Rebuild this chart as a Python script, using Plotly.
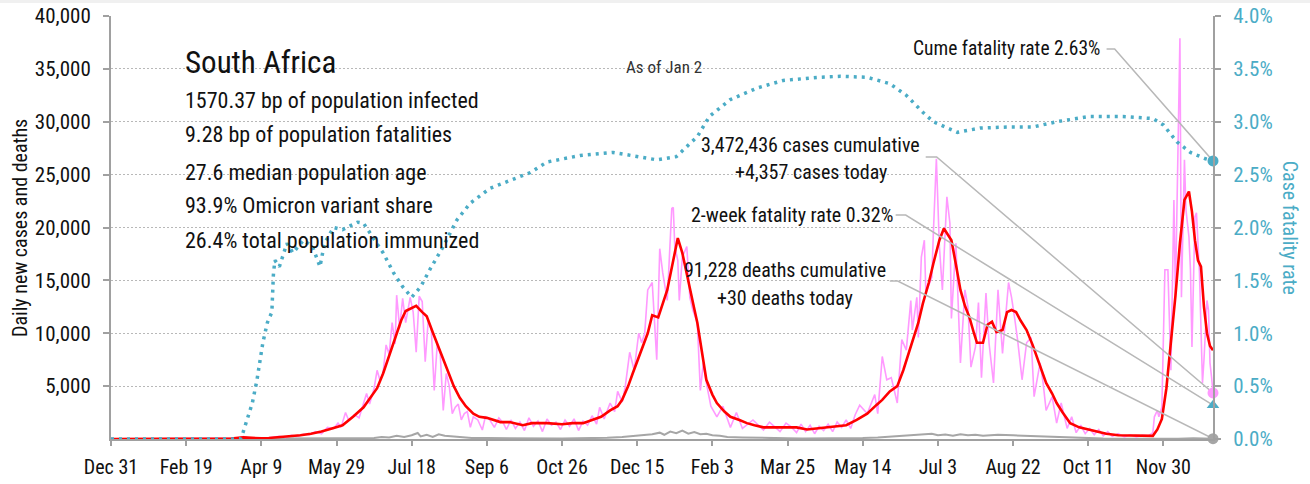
import pandas as pd
import plotly.graph_objects as go

START = pd.Timestamp("2019-12-31")
END = pd.Timestamp("2022-01-02")

# ---- daily new cases (days since START, cases) ----
case_day = [0, 64, 70, 78, 84, 88, 92, 96, 100, 104, 108, 112, 116, 120, 124, 128, 132, 136, 140, 144,
            148, 151, 153, 156, 158, 162, 165, 168, 170, 172, 175, 177, 179, 181, 183, 185, 187, 189, 190, 192,
            194, 196, 199, 201, 203, 205, 207, 209, 211, 213, 215, 217, 219, 221, 223, 225, 227, 229, 231, 233,
            235, 237, 239, 241, 244, 247, 249, 252, 255, 258,
            261, 263, 266, 269, 272, 275, 278, 281, 284, 287, 290, 293, 296, 299, 302, 305, 308, 311, 314, 317,
            320, 323, 325, 328, 332, 335, 337, 340, 342, 345, 348, 351, 353, 355, 357, 360, 362, 363, 365, 367,
            370, 373, 374, 375, 377, 378, 380, 383, 385, 387, 390, 392, 394, 396, 399, 403, 407, 412, 416, 420,
            427, 434, 438, 445, 449,
            452, 456, 459, 462, 465, 468, 471, 474, 477, 480, 483, 486, 489, 492, 495, 498, 503, 508, 510, 513,
            516, 519, 523, 526, 529, 532, 533, 536, 537, 539, 541, 542, 546, 547, 549, 551, 553, 556, 558, 559,
            562, 565, 568, 570, 572, 575, 577, 579, 582, 584, 587, 590, 593, 597, 599, 601, 603, 606, 609, 612,
            614, 618, 620, 622, 626, 629, 632, 636, 639, 642, 645, 648, 651, 654, 657, 660, 663, 666, 670, 674,
            678, 682, 686, 690, 693, 694, 696, 697, 699, 701, 703, 705, 707, 708, 711, 712, 714, 715, 717, 718,
            719, 721, 722, 724, 726, 727, 729, 730, 731, 732, 733]
case_val = [0, 0, 5, 20, 60, 240, 100, 60, 40, 100, 160, 250, 150, 350, 250, 450, 400, 700, 500, 1100,
            1000, 1500, 1100, 2500, 1800, 2300, 2000, 3400, 4300, 3300, 4800, 6500, 5500, 6300, 8900, 8000, 11000, 9000, 13600, 10500,
            13300, 11000, 13400, 12000, 8200, 13500, 13000, 7300, 11200, 10500, 4600, 9000, 8000, 2700, 6200, 5000, 2400, 3000, 3300, 1800,
            2400, 2600, 1100, 2100, 1800, 850, 2100, 1800, 1100, 2000,
            1500, 900, 1800, 1000, 1600, 800, 2000, 1200, 1700, 700, 1900, 1300, 1600, 900, 1800, 1200, 1900, 800, 1700, 1300,
            2200, 1400, 3000, 1900, 3400, 2600, 4500, 3500, 4900, 8200, 6500, 10000, 9100, 10000, 14100, 14800, 10300, 7500, 18000, 15700,
            13100, 21800, 21900, 18200, 16900, 13100, 17200, 18200, 13400, 12200, 11000, 4600, 7200, 5300, 3100, 2100, 3100, 1100, 2500, 1000,
            1800, 850, 1600, 700, 1500,
            1200, 600, 1400, 700, 1300, 500, 1200, 800, 1400, 700, 1600, 1100, 1800, 1000, 2300, 3200, 2400, 4200, 2400, 7800,
            5600, 5800, 3400, 9400, 8400, 13100, 10300, 13400, 9600, 17200, 18800, 13800, 15300, 19500, 26500, 18200, 14100, 22900, 20400, 11400,
            18500, 7200, 14100, 12500, 6800, 8700, 12900, 5800, 13800, 9100, 5300, 14100, 8100, 14800, 13400, 11500, 9400, 5600, 9100, 9600,
            4000, 7200, 5300, 2700, 4000, 1500, 3400, 1000, 2100, 600, 1300, 500, 1000, 400, 900, 300, 700, 250, 500, 200,
            400, 200, 350, 300, 600, 2100, 2700, 2100, 3000, 16000, 16000, 6500, 22600, 13400, 37900, 13400, 26400, 21700, 19100, 16000,
            8700, 21000, 21400, 15700, 5300, 7500, 13100, 12200, 7200, 5900, 4357]

# ---- 7-day average of new cases ----
avg_day = [0, 60, 70, 80, 88, 96, 100, 105, 112, 119, 126, 133, 140, 147, 154, 161, 168, 172, 177, 181,
           185, 189, 193, 196, 200, 203, 207, 210, 214, 219, 223, 228, 232, 236, 241, 245, 250, 255, 259, 265,
           274, 280, 290, 300, 307, 314, 320, 326, 332, 337, 340, 344, 347, 351, 354, 357, 360, 364, 367, 370,
           374, 377, 380, 383, 385, 388, 390, 393, 396, 400, 403, 408, 412, 418, 423, 428, 434, 441, 449, 456,
           463, 470, 478, 489, 496, 503, 509, 513, 518, 523, 527, 530, 533, 537, 540, 544, 547, 551, 554, 557,
           559, 562, 565, 568, 571, 574, 576, 580, 583, 586, 589, 593, 596, 599, 602, 605, 609, 613, 616, 619,
           622, 626, 629, 633, 638, 644, 650, 656, 662, 670, 680, 690, 693, 696, 699, 702, 705, 708, 711, 714,
           717, 719, 721, 723, 725, 727, 729, 731, 733]
avg_val = [0, 0, 5, 40, 150, 80, 60, 100, 170, 250, 350, 500, 700, 1000, 1300, 2100, 3000, 3800, 4800, 6200,
           7800, 9400, 11200, 12100, 12400, 12600, 12000, 11600, 10100, 8300, 6700, 5000, 3900, 3100, 2400, 2100, 2000, 1800, 1600, 1600,
           1300, 1500, 1500, 1400, 1500, 1500, 1800, 2100, 2700, 3100, 3700, 5000, 6200, 7700, 8700, 10000, 11700, 11500, 12800, 14100,
           16900, 19000, 17600, 15500, 14100, 12300, 11000, 8400, 5600, 4200, 3400, 2600, 2100, 1800, 1500, 1300, 1100, 1100, 1100, 1100,
           900, 1000, 1100, 1300, 1800, 2400, 3200, 3700, 4500, 5000, 6500, 7800, 9100, 11000, 12800, 14800, 16600, 18800, 19900, 19300,
           18800, 16500, 14100, 12600, 11500, 10000, 9100, 9100, 10800, 11100, 10100, 10300, 12000, 12200, 12000, 11200, 10300, 8900, 7700, 6500,
           5300, 4300, 3400, 2500, 1500, 1100, 900, 700, 500, 350, 300, 300, 300, 900, 1900, 4800, 9000, 13500, 18500, 22600,
           23400, 21500, 18800, 16900, 16300, 12500, 10000, 8800, 8400]

# ---- daily deaths ----
death_day = [0, 85, 90, 100, 110, 120, 130, 140, 150, 160, 170, 175, 180, 185, 190, 195, 200, 204, 206, 210,
             214, 218, 222, 226, 230, 235, 240, 250, 260, 270, 280, 290, 300, 310, 320, 330, 340, 350, 355, 360,
             365, 368, 372, 376, 380, 384, 388, 392, 396, 400, 405, 410, 420, 430, 440, 450, 460, 470, 480, 490,
             500, 510, 520, 530, 540, 546, 550, 555, 560, 565, 570, 575, 580, 590, 600, 610, 620, 630, 640, 650,
             660, 670, 680, 690, 700, 710, 720, 728, 733]
death_val = [0, 0, 5, 10, 10, 15, 20, 50, 70, 80, 120, 100, 200, 150, 300, 200, 350, 570, 250, 400,
             200, 450, 300, 250, 200, 150, 100, 90, 70, 60, 50, 60, 40, 60, 80, 120, 200, 300, 400, 450,
             600, 400, 700, 550, 800, 500, 650, 450, 500, 350, 300, 200, 150, 100, 80, 60, 50, 50, 60, 80,
             100, 150, 250, 300, 400, 500, 350, 420, 300, 450, 350, 400, 300, 400, 350, 300, 250, 150, 100, 60,
             40, 30, 20, 15, 20, 30, 60, 80, 30]

# ---- cumulative case fatality rate (%) ----
cfr_day = [0, 86, 88, 91, 94, 97, 101, 104, 107, 108, 109, 112, 117, 121, 128, 134, 139, 142, 148, 154, 164,
           168, 174, 181, 188, 194, 200, 206, 212, 221, 230, 239, 252, 267, 279, 290, 312, 334, 352, 363, 376,
           390, 398, 412, 430, 447, 470, 485, 503, 518, 529, 540, 547, 563, 578, 596, 613, 629, 651, 673, 693,
           700, 709, 718, 728, 733]
cfr_val = [0.0, 0.0, 0.07, 0.2, 0.34, 0.55, 0.91, 1.1, 1.2, 1.55, 1.69, 1.63, 1.85, 1.76, 1.88, 1.82, 1.63, 1.85, 2.0, 1.98, 2.05,
           2.04, 1.91, 1.76, 1.57, 1.44, 1.34, 1.44, 1.6, 1.82, 2.07, 2.23, 2.37, 2.45, 2.52, 2.62, 2.68, 2.71, 2.67, 2.64, 2.67,
           2.86, 3.05, 3.21, 3.32, 3.39, 3.42, 3.43, 3.42, 3.36, 3.25, 3.09, 3.0, 2.9, 2.94, 2.95, 2.95, 3.0, 3.05, 3.05, 3.03,
           2.97, 2.81, 2.71, 2.65, 2.63]

# ---- headline figures ----
country = "South Africa"
facts = ["1570.37 bp of population infected",
         "9.28 bp of population fatalities",
         "27.6 median population age",
         "93.9% Omicron variant share",
         "26.4% total population immunized"]
as_of = "As of Jan 2"
cases_cumulative = 3472436
deaths_cumulative = 91228
cases_today = case_val[-1]
deaths_today = death_val[-1]
cume_cfr = cfr_val[-1] / 100
two_week_cfr = 0.0032

x_tick_labels = ["Dec 31", "Feb 19", "Apr 9", "May 29", "Jul 18", "Sep 6", "Oct 26", "Dec 15",
                 "Feb 3", "Mar 25", "May 14", "Jul 3", "Aug 22", "Oct 11", "Nov 30"]

FONT = "Roboto Condensed, Liberation Sans Narrow, Arial Narrow, sans-serif"
PINK = "#ff99ff"
RED = "#ff0000"
BLUE = "#4bacc6"
GRAY = "#a6a6a6"
AXIS = "#a0a0a0"
LEADER = "#b8b8b8"
INK = "#111111"


def dates(days):
    return [START + pd.Timedelta(days=d) for d in days]


fig = go.Figure()

fig.add_trace(go.Scatter(x=dates(death_day), y=death_val, mode="lines",
                         line=dict(color=GRAY, width=2), hoverinfo="skip"))
fig.add_trace(go.Scatter(x=dates(case_day), y=case_val, mode="lines",
                         line=dict(color=PINK, width=1.6), hoverinfo="skip"))
fig.add_trace(go.Scatter(x=dates(avg_day), y=avg_val, mode="lines",
                         line=dict(color=RED, width=2.6), hoverinfo="skip"))
fig.add_trace(go.Scatter(x=dates(cfr_day), y=[v / 100 for v in cfr_val], mode="lines", yaxis="y2",
                         line=dict(color=BLUE, width=3.5, dash="3px,5px"), hoverinfo="skip"))

# leader lines from the labels to the latest values
last = END


def leader(day_a, day_b, y_label, y_end, axis):
    fig.add_trace(go.Scatter(x=dates([day_a, day_b]) + [last], y=[y_label, y_label, y_end],
                             mode="lines", yaxis=axis, line=dict(color=LEADER, width=1.5),
                             hoverinfo="skip"))


leader(662.2, 667.6, 0.03688, cume_cfr, "y2")
leader(541.9, 549.2, 26666, cases_today, "y")
leader(521.9, 528.6, 0.02118, two_week_cfr, "y2")
leader(518.0, 523.3, 14940, deaths_today, "y")

# end-point markers
fig.add_trace(go.Scatter(x=[last], y=[deaths_today], mode="markers",
                         marker=dict(color=GRAY, size=11), hoverinfo="skip", cliponaxis=False))
fig.add_trace(go.Scatter(x=[last], y=[cases_today], mode="markers",
                         marker=dict(color=PINK, size=11), hoverinfo="skip", cliponaxis=False))
fig.add_trace(go.Scatter(x=[last], y=[two_week_cfr], mode="markers", yaxis="y2",
                         marker=dict(color=BLUE, size=11, symbol="triangle-up"), hoverinfo="skip",
                         cliponaxis=False))
fig.add_trace(go.Scatter(x=[last], y=[cume_cfr], mode="markers", yaxis="y2",
                         marker=dict(color=BLUE, size=11), hoverinfo="skip", cliponaxis=False))

annotations = []


def note(text, x, y, size=20, xanchor="left", color=INK, angle=0):
    annotations.append(dict(text=text, x=x, y=y, xref="paper", yref="paper", showarrow=False,
                            xanchor=xanchor, yanchor="middle", textangle=angle,
                            font=dict(family=FONT, size=size, color=color)))


note(country, 0.0653, 0.891, size=31)
for text, yy in zip(facts, [0.801, 0.719, 0.631, 0.551, 0.470]):
    note(text, 0.0653, yy, size=22)
note(as_of, 0.502, 0.879, size=17, xanchor="center", color="#333333")
note(f"Cume fatality rate {cume_cfr:.2%}", 0.899, 0.924, size=19.5, xanchor="right")
note(f"{cases_cumulative:,} cases cumulative", 0.635, 0.695, xanchor="center")
note(f"+{cases_today:,} cases today", 0.635, 0.631, xanchor="center")
note(f"2-week fatality rate {two_week_cfr:.2%}", 0.618, 0.530, xanchor="center")
note(f"{deaths_cumulative:,} deaths cumulative", 0.612, 0.400, xanchor="center")
note(f"+{deaths_today:,} deaths today", 0.612, 0.333, xanchor="center")
note("Daily new cases and deaths", -0.0826, 0.499, size=20, xanchor="center", angle=-90)
note("Case fatality rate", 1.070, 0.499, size=20, xanchor="center", color=BLUE, angle=90)

tick_dates = [START + pd.Timedelta(days=50 * k) for k in range(len(x_tick_labels))]

fig.update_layout(
    width=1310, height=484,
    margin=dict(l=111, r=97, t=16, b=45, autoexpand=False),
    paper_bgcolor="white", plot_bgcolor="white",
    showlegend=False,
    font=dict(family=FONT, size=20, color=INK),
    annotations=annotations,
    shapes=[dict(type="rect", xref="paper", yref="paper", x0=-0.2, x1=1.2, y0=1.031, y1=1.04,
                 fillcolor="#f0f0f0", line=dict(width=0), layer="below")],
    xaxis=dict(type="date", range=[START, END], tickvals=tick_dates, ticktext=x_tick_labels,
               ticks="outside", ticklen=5, tickwidth=2, tickcolor=AXIS, automargin=False,
               showline=True, linecolor=AXIS, linewidth=2, showgrid=False, zeroline=False,
               ticklabelstandoff=4, tickfont=dict(size=20, color=INK)),
    yaxis=dict(range=[0, 40000], tickvals=list(range(5000, 40001, 5000)), tickformat=",d",
               ticks="outside", ticklen=6, tickwidth=2, tickcolor=AXIS, automargin=False,
               showline=True, linecolor=AXIS, linewidth=2, zeroline=False,
               showgrid=True, gridcolor="#b8b8b8", gridwidth=1, griddash="2px,2px",
               ticklabelstandoff=8, tickfont=dict(size=21, color=INK)),
    yaxis2=dict(range=[0, 0.04], overlaying="y", side="right", dtick=0.005, tickformat=".1%",
                ticks="outside", ticklen=6, tickwidth=2, tickcolor=AXIS, automargin=False,
                showline=True, linecolor=AXIS, linewidth=2, zeroline=False, showgrid=False,
                ticklabelstandoff=8, tickfont=dict(size=21, color=BLUE)),
)

fig.write_html("out.html")
